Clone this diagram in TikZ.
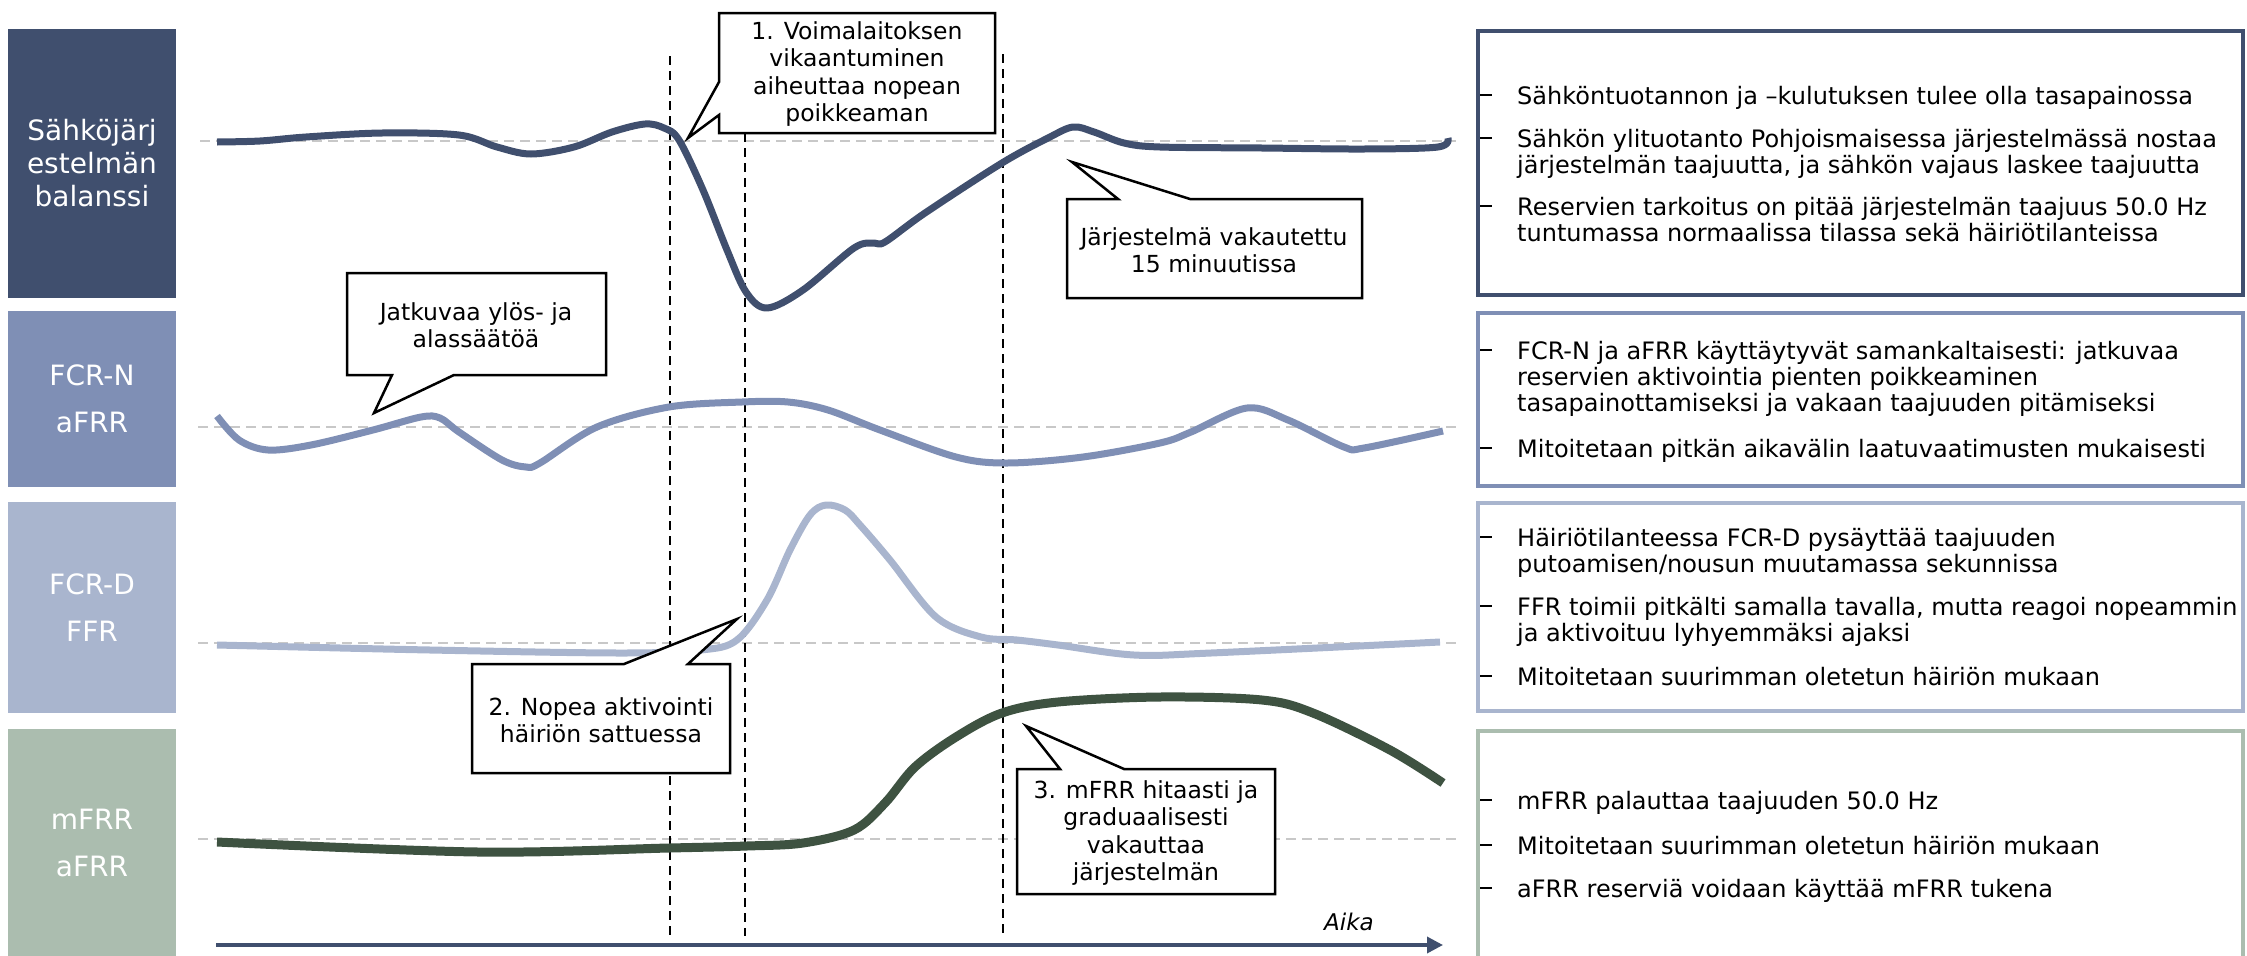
\documentclass[tikz,border=0pt]{standalone}
\usepackage{fontspec}
\setmainfont{DejaVu Sans}
\usetikzlibrary{arrows.meta}
\definecolor{cA}{RGB}{64,79,110}
\definecolor{cB}{RGB}{127,143,181}
\definecolor{cC}{RGB}{169,181,206}
\definecolor{cD}{RGB}{171,189,175}
\definecolor{cG}{RGB}{62,82,65}
\definecolor{cgrid}{RGB}{200,200,200}
\begin{document}
\begin{tikzpicture}[x=1pt,y=-1pt,
  baseln/.style={draw=cgrid, line width=2.5pt, dash pattern=on 10pt off 6pt},
  vline/.style={draw=black, line width=2pt, dash pattern=on 9pt off 6pt},
  curve/.style={line width=7pt, line join=round},
  lab/.style={fill=#1, draw=none, minimum width=168pt, align=center, text=white, inner sep=0pt},
  rbox/.style={draw=#1, line width=4pt},
  btxt/.style={anchor=base west, inner sep=0pt, font=\fontsize{24}{27}\selectfont},
  call/.style={draw=black, line width=2.5pt, fill=white, line join=miter},
  ctxt/.style={align=center, inner sep=0pt, font=\fontsize{23.5}{27.5}\selectfont},
  bdash/.style={draw=black, line width=1.6pt},
]
\useasboundingbox (0,0) rectangle (2247,956);

% grey reference lines
\draw[baseln] (200,141) -- (1456,141);
\draw[baseln] (198,427) -- (1460,427);
\draw[baseln] (198,643) -- (1460,643);
\draw[baseln] (198,839) -- (1460,839);

% vertical event lines
\coordinate (v1t) at (670,56);  \coordinate (v1b) at (670,936);
\coordinate (v2t) at (745,133); \coordinate (v2b) at (745,936);
\coordinate (v3t) at (1003,54); \coordinate (v3b) at (1003,936);
\draw[vline] (v1t) -- (v1b);
\draw[vline] (v2t) -- (v2b);
\draw[vline] (v3t) -- (v3b);

% curves
\draw[curve, cA] plot[smooth, tension=0.55] coordinates {
 (217,142) (260,141) (306,137) (382,133) (459,135) (497,147) (531,154) (574,147)
 (612,132) (645,124) (664,128) (679,140) (703,190) (727,250) (746,292) (767,308)
 (803,290) (854,248) (874,243) (885,242) (925,213) (1002,163) (1048,138) (1073,127)
 (1094,132) (1124,143) (1160,147) (1262,148) (1364,149) (1438,147) (1448,138)};
\draw[curve, cB] plot[smooth, tension=0.55] coordinates {
 (217,416) (239,440) (268,450) (311,445) (373,430) (421,417) (440,418) (459,432)
 (502,460) (526,467) (540,463) (597,427) (669,407) (742,402) (788,402) (828,410)
 (880,430) (956,457) (1007,463) (1083,457) (1160,443) (1191,432) (1247,408) (1288,420)
 (1344,447) (1364,448) (1443,431)};
\draw[curve, cC] plot[smooth, tension=0.55] coordinates {
 (217,645) (430,650) (621,653) (701,650) (737,640) (767,600) (790,550) (810,515)
 (826,505) (845,510) (860,525) (890,560) (936,617) (981,637) (1017,640) (1058,645)
 (1134,655) (1211,653) (1440,642)};
\draw[curve, cG, line width=9pt] plot[smooth, tension=0.55] coordinates {
 (217,842) (478,852) (669,848) (747,846) (803,843) (854,830) (885,803) (915,767)
 (956,737) (1002,713) (1058,702) (1160,697) (1262,700) (1313,713) (1390,750) (1443,783)};

% time axis
\coordinate (t0) at (216,945);
\coordinate (t1) at (1443,945);
\draw[cA, line width=3.5pt, -{Triangle[length=16pt,width=16pt]}] (t0) -- (t1);
\node[font=\fontsize{23}{27}\selectfont\itshape, inner sep=0pt] (aika) at (1349,922) {Aika};

% callouts
\draw[call] (719,13) -- (995,13) -- (995,133) -- (719,133) -- (719,115) -- (688,138) -- (719,82) -- cycle;
\node[ctxt] (c1) at (857,74) {1. Voimalaitoksen\\vikaantuminen\\aiheuttaa nopean\\poikkeaman};
\draw[call] (347,273) -- (606,273) -- (606,375) -- (454,375) -- (374,413) -- (392,375) -- (347,375) -- cycle;
\node[ctxt] (c2) at (476,325) {Jatkuvaa ylös- ja\\alassäätöä};
\draw[call] (1067,199) -- (1118,199) -- (1072,162) -- (1190,199) -- (1362,199) -- (1362,298) -- (1067,298) -- cycle;
\node[ctxt] (c3) at (1214,250) {Järjestelmä vakautettu\\15 minuutissa};
\draw[call] (472,664) -- (624,664) -- (737,619) -- (688,664) -- (730,664) -- (730,773) -- (472,773) -- cycle;
\node[ctxt] (c4) at (601,720) {2. Nopea aktivointi\\häiriön sattuessa};
\draw[call] (1017,769) -- (1060,769) -- (1026,726) -- (1124,769) -- (1275,769) -- (1275,894) -- (1017,894) -- cycle;
\node[ctxt] (c5) at (1146,833) {3. mFRR hitaasti ja\\graduaalisesti\\vakauttaa\\järjestelmän};

% left labels
\node[lab=cA, minimum height=269pt, font=\fontsize{28}{33}\selectfont] (L1) at (92,163.5) {Sähköjärj\\estelmän\\balanssi};
\node[lab=cB, minimum height=176pt, font=\fontsize{28}{47}\selectfont] (L2) at (92,399) {FCR-N\\aFRR};
\node[lab=cC, minimum height=211pt, font=\fontsize{28}{47}\selectfont] (L3) at (92,607.5) {FCR-D\\FFR};
\node[lab=cD, minimum height=227pt, font=\fontsize{28}{47}\selectfont] (L4) at (92,842.5) {mFRR\\aFRR};

% right boxes
\draw[rbox=cA] (1478,31) rectangle (2243,295);
\draw[rbox=cB] (1478,313) rectangle (2243,486);
\draw[rbox=cC] (1478,503) rectangle (2243,711);
\draw[rbox=cD] (1478,731) rectangle (2243,962);

% bullet dashes
\foreach \y in {95,138,206,350,448,537,606,676,800,845,888}
  \draw[bdash] (1480,\y) -- (1492,\y);

% right texts
\node[btxt] (r1a) at (1517,104) {Sähköntuotannon ja –kulutuksen tulee olla tasapainossa};
\node[btxt] (r1b) at (1517,147) {Sähkön ylituotanto Pohjoismaisessa järjestelmässä nostaa};
\node[btxt] (r1c) at (1517,173) {järjestelmän taajuutta, ja sähkön vajaus laskee taajuutta};
\node[btxt] (r1d) at (1517,215) {Reservien tarkoitus on pitää järjestelmän taajuus 50.0 Hz};
\node[btxt] (r1e) at (1517,241) {tuntumassa normaalissa tilassa sekä häiriötilanteissa};

\node[btxt] (r2a) at (1517,359) {FCR-N ja aFRR käyttäytyvät samankaltaisesti: jatkuvaa};
\node[btxt] (r2b) at (1517,385) {reservien aktivointia pienten poikkeaminen};
\node[btxt] (r2c) at (1517,411) {tasapainottamiseksi ja vakaan taajuuden pitämiseksi};
\node[btxt] (r2d) at (1517,457) {Mitoitetaan pitkän aikavälin laatuvaatimusten mukaisesti};

\node[btxt] (r3a) at (1517,546) {Häiriötilanteessa FCR-D pysäyttää taajuuden};
\node[btxt] (r3b) at (1517,572) {putoamisen/nousun muutamassa sekunnissa};
\node[btxt] (r3c) at (1517,615) {FFR toimii pitkälti samalla tavalla, mutta reagoi nopeammin};
\node[btxt] (r3d) at (1517,641) {ja aktivoituu lyhyemmäksi ajaksi};
\node[btxt] (r3e) at (1517,685) {Mitoitetaan suurimman oletetun häiriön mukaan};

\node[btxt] (r4a) at (1517,809) {mFRR palauttaa taajuuden 50.0 Hz};
\node[btxt] (r4b) at (1517,854) {Mitoitetaan suurimman oletetun häiriön mukaan};
\node[btxt] (r4c) at (1517,897) {aFRR reserviä voidaan käyttää mFRR tukena};
\end{tikzpicture}
\end{document}
